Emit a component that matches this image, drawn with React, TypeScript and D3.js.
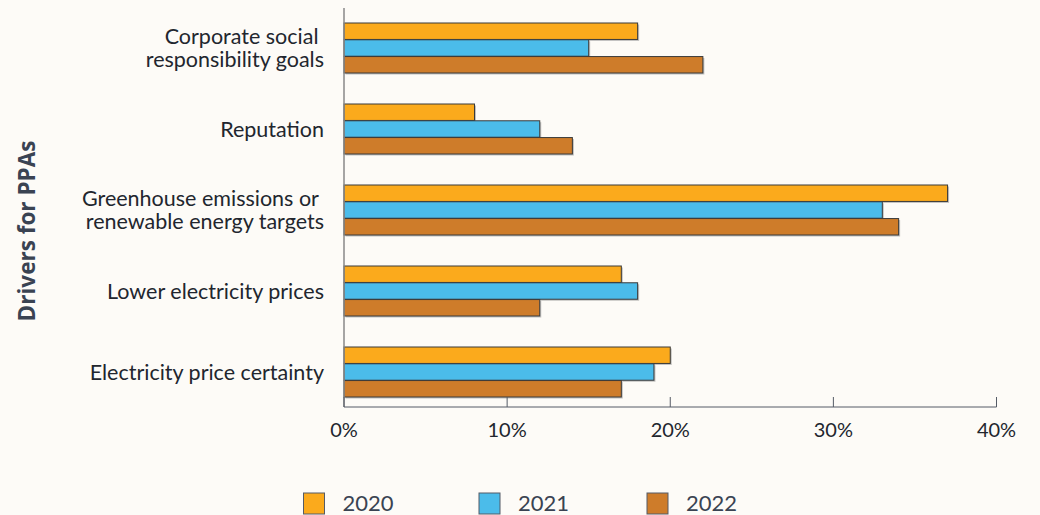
import React from "react";
import * as d3 from "d3";

const categories = [
  "Corporate social |responsibility goals",
  "Reputation",
  "Greenhouse emissions or |renewable energy targets",
  "Lower electricity prices",
  "Electricity price certainty",
];
const years = ["2020", "2021", "2022"];
const values2020 = [18, 8, 37, 17, 20];
const values2021 = [15, 12, 33, 18, 19];
const values2022 = [22, 14, 34, 12, 17];
const xTicks = [0, 10, 20, 30, 40];
const colors = ["#FBAA1C", "#4BBCEA", "#CE7C2A"];

const W = 1040;
const H = 515;
const FONT = "Lato, 'Open Sans', sans-serif";
const TEXT = "#22262e";

export default function App() {
  const series = [values2020, values2021, values2022];
  const x = d3.scaleLinear().domain([0, 40]).range([344, 996.5]);
  const y = d3.scaleBand<number>().domain(d3.range(categories.length)).range([7.5, 412.5]);
  const inner = d3.scaleBand<number>().domain([0, 1, 2]).range([-25, 25]).paddingInner(0.02);
  const axisY = 407;

  return (
    <svg
      width={W}
      height={H}
      style={{ position: "absolute", left: 0, top: 0, background: "#FDFBF7" }}
      fontFamily={FONT}
    >
      <rect width={W} height={H} fill="#FDFBF7" />
      {categories.map((c, i) => {
        const cy = (y(i) as number) + y.bandwidth() / 2;
        return series.map((s, k) => {
          const by = cy + (inner(k) as number);
          const bw = x(s[i]) - x(0);
          return (
            <g key={`${i}-${k}`}>
              <rect x={x(0) + 1.5} y={by + 1.5} width={bw} height={inner.bandwidth()} fill="#9a9a9a" opacity={0.6} />
              <rect x={x(0)} y={by} width={bw} height={inner.bandwidth()} fill={colors[k]} stroke="#3a3a3a" strokeWidth={1} />
            </g>
          );
        });
      })}
      <line x1={x(0)} x2={x(0)} y1={8} y2={axisY} stroke="#888" strokeWidth={1.5} />
      <line x1={x(0)} x2={x(40)} y1={axisY} y2={axisY} stroke="#555b66" strokeWidth={1} />
      {xTicks.map((t) => (
        <g key={t}>
          <line x1={x(t)} x2={x(t)} y1={axisY - 10} y2={axisY} stroke="#555b66" strokeWidth={1} />
          <text x={x(t)} y={436.5} textAnchor="middle" fontSize={20} fill={TEXT}>
            {t}%
          </text>
        </g>
      ))}
      {categories.map((c, i) => {
        const cy = (y(i) as number) + y.bandwidth() / 2;
        const lines = c.split("|");
        const lh = 22.7;
        const start = cy - ((lines.length - 1) * lh) / 2;
        return (
          <text key={c} textAnchor="end" fontSize={21.5} fill={TEXT} style={{ whiteSpace: "pre" }}>
            {lines.map((l, j) => (
              <tspan key={j} x={324} y={start + j * lh} dy="0.35em">
                {l}
              </tspan>
            ))}
          </text>
        );
      })}
      <text
        transform={`translate(34.5,231) rotate(-90)`}
        textAnchor="middle"
        fontSize={22.5}
        fontWeight="bold"
        fontFamily="'Open Sans', sans-serif"
        fill="#3a4352"
      >
        Drivers for PPAs
      </text>
      {years.map((yr, k) => {
        const lx = [303.5, 479, 647][k];
        return (
          <g key={yr}>
            <rect x={lx} y={493} width={21} height={21} fill={colors[k]} stroke="#555b66" strokeWidth={1} />
            <text x={lx + 39} y={510.5} fontSize={22} fill="#3a4352">
              {yr}
            </text>
          </g>
        );
      })}
    </svg>
  );
}
